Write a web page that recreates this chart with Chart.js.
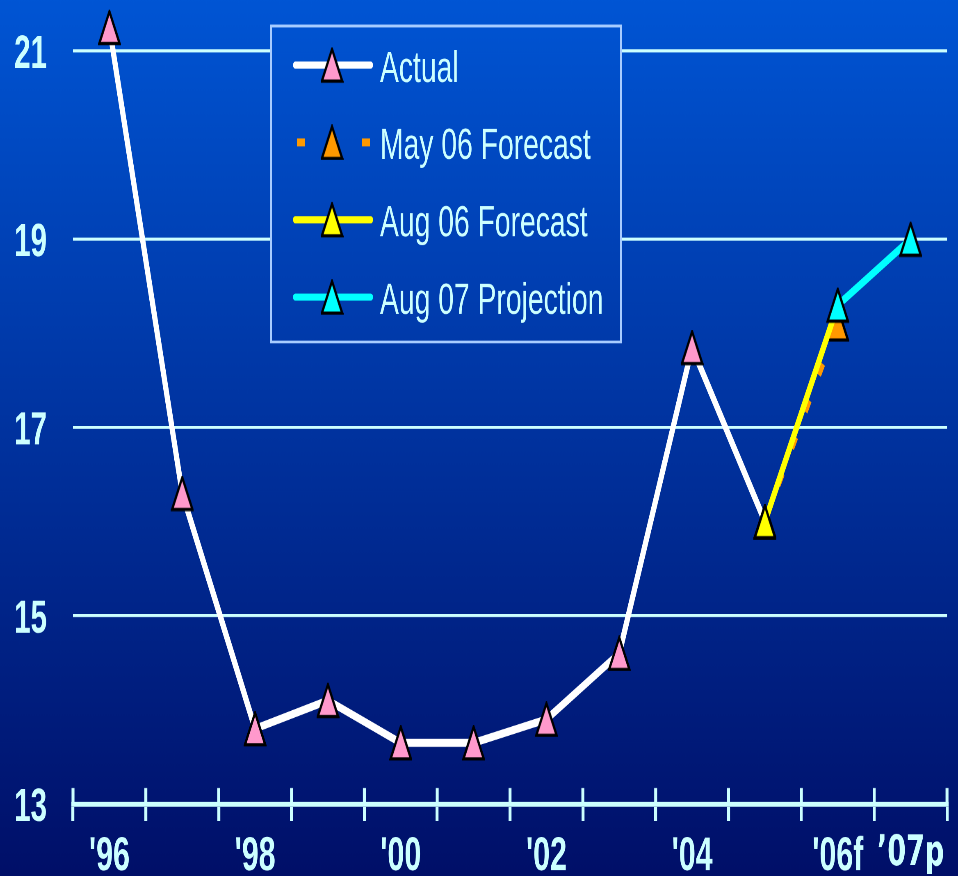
<!DOCTYPE html>
<html>
<head>
<meta charset="utf-8">
<title>Index, 1996–2007</title>
<script src="https://cdn.jsdelivr.net/npm/chart.js@4.4.1/dist/chart.umd.min.js"></script>
<style>
  html, body { margin: 0; padding: 0; background: #000f68; overflow: hidden; }
  /* the slide is drawn on a 1168x684 canvas and shown squeezed to 958x876,
     which gives the tall, narrow lettering and markers of the original slide */
  #stage { position: absolute; left: 0; top: 0; width: 1168px; height: 684px;
           transform: scale(0.82021, 1.28070); transform-origin: 0 0; }
  canvas { display: block; }
</style>
</head>
<body>
<div id="stage"><canvas id="chart" width="1168" height="684" style="width:1168px;height:684px"></canvas></div>
<script>
// ---- data ----
const years = ['1996', '1997', '1998', '1999', '2000', '2001', '2002', '2003', '2004', '2005', '2006', '2007'];
const tickLabels = ["'96", '', "'98", '', "'00", '', "'02", '', "'04", '', "'06f", '\u201907p'];
const actual          = [21.25, 16.3, 13.8, 14.1, 13.65, 13.65, 13.9, 14.6, 17.85, 16.0, null, null];
const may06Forecast   = [null, null, null, null, null, null, null, null, null, 16.0, 18.1, null];
const aug06Forecast   = [null, null, null, null, null, null, null, null, null, 16.0, 18.3, null];
const aug07Projection = [null, null, null, null, null, null, null, null, null, null, 18.3, 19.0];
const yTicks = [13, 15, 17, 19, 21];

// ---- look ----
const SANS = '"Liberation Sans", Arial, sans-serif';
const WIDE = '"DejaVu Sans", Verdana, sans-serif';
const INK = '#CCFFFF';
const W = 1168, H = 684;

function backdrop(ctx) {
  const g = ctx.createLinearGradient(0, 0, 0, H);
  g.addColorStop(0, '#0055D4');
  g.addColorStop(1, '#000F68');
  return g;
}

// triangle marker bitmap, drawn at 2x and displayed at 28x28
function triangleMarker(fill) {
  const s = 2, w = 28, h = 28;
  const c = document.createElement('canvas');
  c.width = w * s; c.height = h * s;
  const g = c.getContext('2d');
  g.scale(s, s);
  g.beginPath();
  g.moveTo(w / 2, 1.6);
  g.lineTo(w - 1.6, h - 1.5);
  g.lineTo(1.6, h - 1.5);
  g.closePath();
  g.fillStyle = fill;
  g.fill();
  g.lineWidth = 2.6;
  g.lineJoin = 'miter';
  g.strokeStyle = '#000';
  g.stroke();
  const img = new Image();
  img.src = c.toDataURL();
  img.width = w; img.height = h;
  return img;
}

const markers = {
  pink: triangleMarker('#FF99CC'),
  orange: triangleMarker('#FF9900'),
  yellow: triangleMarker('#FFFF00'),
  cyan: triangleMarker('#00FFFF')
};

// background fill
const backdropPlugin = {
  id: 'backdrop',
  beforeDraw(chart) {
    const ctx = chart.ctx;
    ctx.save();
    ctx.fillStyle = backdrop(ctx);
    ctx.fillRect(0, 0, W, H);
    ctx.restore();
  }
};

// upper half of the category tick marks on the x axis
const axisTicksPlugin = {
  id: 'axisTicks',
  beforeDatasetsDraw(chart) {
    const x = chart.scales.x, ctx = chart.ctx;
    const base = chart.chartArea.bottom;
    ctx.save();
    ctx.strokeStyle = INK;
    ctx.lineWidth = 3.6;
    for (let i = 0; i <= years.length; i++) {
      const px = x.getPixelForValue(i - 0.5);
      ctx.beginPath();
      ctx.moveTo(px, base - 12.5);
      ctx.lineTo(px, base + 1);
      ctx.stroke();
    }
    ctx.restore();
  }
};

// boxed legend
const boxLegendPlugin = {
  id: 'boxLegend',
  beforeDatasetsDraw(chart) {
    const ctx = chart.ctx;
    const bx = 330.4, by = 20.3, bw = 426.7, bh = 246.7;
    ctx.save();
    ctx.fillStyle = backdrop(ctx);
    ctx.fillRect(bx, by, bw, bh);
    ctx.strokeStyle = '#A8CCFF';
    ctx.lineWidth = 2.2;
    ctx.strokeRect(bx, by, bw, bh);

    chart.data.datasets.forEach((ds, i) => {
      const y = 50.8 + i * 60.4;
      ctx.save();
      ctx.strokeStyle = ds.borderColor;
      if (ds.borderDash && ds.borderDash.length) {
        ctx.lineCap = 'butt';
        ctx.lineWidth = 6.2;
        ctx.setLineDash([9.8, 29.8]);
        ctx.beginPath();
        ctx.moveTo(362, y);
        ctx.lineTo(452, y);
        ctx.stroke();
      } else {
        ctx.lineCap = 'round';
        ctx.lineWidth = 5.6;
        ctx.beginPath();
        ctx.moveTo(360, y);
        ctx.lineTo(452, y);
        ctx.stroke();
      }
      ctx.restore();
      const img = ds.pointStyle;
      ctx.drawImage(img, 404.8 - img.width / 2, y - img.height / 2, img.width, img.height);
      ctx.fillStyle = INK;
      ctx.font = '34.5px ' + SANS;
      ctx.textBaseline = 'alphabetic';
      ctx.textAlign = 'left';
      ctx.fillText(ds.label, 463.3, y + 13);
    });
    ctx.restore();
  }
};

function lineSet(label, data, color, marker, order, extra) {
  return Object.assign({
    label, data, order,
    borderColor: color,
    borderWidth: 6.3,
    borderCapStyle: 'round',
    borderJoinStyle: 'round',
    tension: 0,
    pointStyle: marker,
    pointRadius: 26,
    pointHoverRadius: 26,
    clip: false,
    spanGaps: false
  }, extra || {});
}

Promise.all(Object.values(markers).map(m => m.decode().catch(() => {}))).then(() => {
  new Chart(document.getElementById('chart'), {
    type: 'line',
    data: {
      labels: years,
      datasets: [
        lineSet('Actual', actual, '#FFFFFF', markers.pink, 4),
        lineSet('May 06 Forecast', may06Forecast, '#FF9900', markers.orange, 3,
                { borderDash: [10, 23], borderCapStyle: 'butt', borderWidth: 5.4 }),
        lineSet('Aug 06 Forecast', aug06Forecast, '#FFFF00', markers.yellow, 2,
                { pointRadius: ctx => (ctx.dataIndex === 10 ? 0 : 26) }),
        lineSet('Aug 07 Projection', aug07Projection, '#00FFFF', markers.cyan, 1)
      ]
    },
    options: {
      responsive: false,
      devicePixelRatio: 2,
      animation: false,
      events: [],
      layout: { autoPadding: false, padding: { top: 39.8, right: 13.4, left: 0, bottom: 0 } },
      plugins: { legend: { display: false }, tooltip: { enabled: false }, title: { display: false } },
      scales: {
        x: {
          type: 'category',
          offset: true,
          grid: { display: true, offset: true, drawOnChartArea: false, drawTicks: true,
                  tickLength: 13.2, color: INK, lineWidth: 3.6 },
          border: { display: true, color: INK, width: 3.9 },
          ticks: {
            autoSkip: false, maxRotation: 0, minRotation: 0, padding: 6, color: INK,
            font: ctx => (ctx.index === 11
              ? { family: WIDE, size: 33, weight: 'bold' }
              : { family: SANS, size: 37, weight: 'bold' }),
            callback: (v, i) => tickLabels[i]
          },
          afterFit: s => { s.height = 56.2; s.paddingLeft = 0; s.paddingRight = 0; }
        },
        y: {
          min: 13, max: 21,
          afterBuildTicks: s => { s.ticks = yTicks.map(v => ({ value: v })); },
          grid: { drawTicks: false, lineWidth: 2.35,
                  color: ctx => (ctx.tick && ctx.tick.value === 13 ? 'rgba(0,0,0,0)' : INK) },
          border: { display: false },
          ticks: { color: INK, padding: 31.7, labelOffset: 3.5,
                   font: { family: SANS, size: 36, weight: 'bold' } },
          afterFit: s => { s.width = 89; s.paddingTop = 0; s.paddingBottom = 0; }
        }
      }
    },
    plugins: [backdropPlugin, axisTicksPlugin, boxLegendPlugin]
  });
});
</script>
</body>
</html>
